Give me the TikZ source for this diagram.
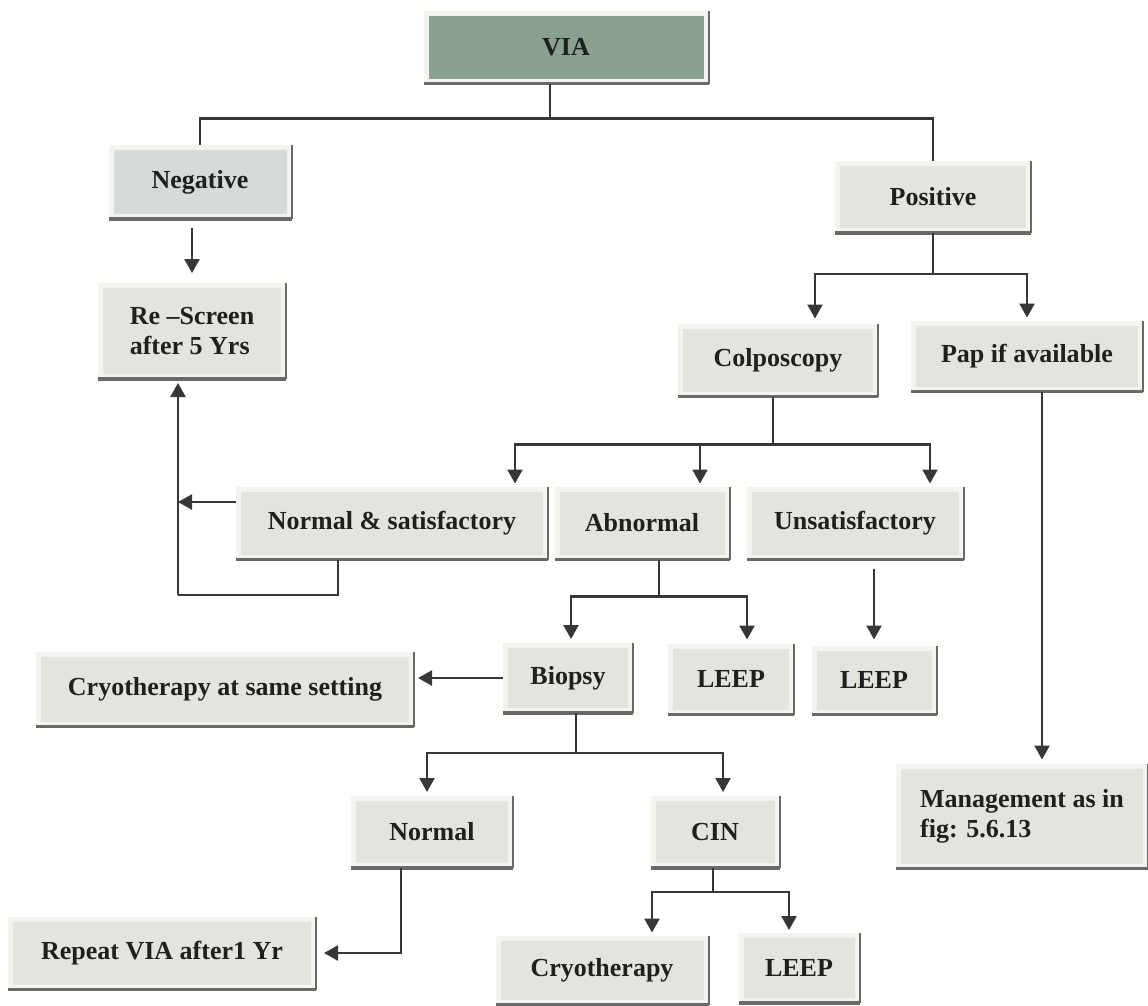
\documentclass[tikz,border=0pt]{standalone}
\usepackage{fontspec}
\setmainfont{Liberation Serif}
\usetikzlibrary{arrows.meta,positioning,calc}
\definecolor{boxFill}{RGB}{228,228,222}
\definecolor{boxRim}{RGB}{243,243,239}
\definecolor{viaFill}{RGB}{140,160,145}
\definecolor{negFill}{RGB}{212,219,216}
\definecolor{edgeDark}{RGB}{105,105,105}
\definecolor{lineDark}{RGB}{55,55,55}

\begin{document}
\begin{tikzpicture}[
  x=1pt, y=-1pt,
  font=\fontsize{26}{30}\selectfont\bfseries,
  box/.style={fill=boxFill, draw=boxRim, line width=5pt, inner sep=0pt, text=black!88},
  edge/.style={draw=edgeDark},
  link/.style={draw=lineDark, line width=2.4pt},
  arrow/.style={link, -{Triangle[width=15pt,length=14pt]}},
]

\useasboundingbox (0,0) rectangle (1148,1005);

% ---------- boxes ----------
\node[box, fill=viaFill, minimum width=280pt, minimum height=68pt] (via) at (566,47) {VIA};
\node[box, fill=negFill, minimum width=178pt, minimum height=69pt] (neg) at (200,182) {Negative};
\node[box, minimum width=191pt, minimum height=67pt] (pos) at (933,197) {Positive};
\node[box, align=left, minimum width=183pt, minimum height=91pt] (rescr) at (192,331) {Re --Screen\\after 5 Yrs};
\node[box, minimum width=195pt, minimum height=68pt] (colpo) at (778,360) {Colposcopy};
\node[box, minimum width=227pt, minimum height=66pt] (pap) at (1027,356) {Pap if available};
\node[box, minimum width=307pt, minimum height=68pt] (normsat) at (392,523) {Normal \& satisfactory};
\node[box, minimum width=170pt, minimum height=68pt] (abn) at (642,523) {Abnormal};
\node[box, minimum width=212pt, minimum height=68pt] (unsat) at (855,523) {Unsatisfactory};
\node[box, minimum width=125pt, minimum height=65pt] (biopsy) at (568,678) {Biopsy};
\node[box, minimum width=121pt, minimum height=66pt] (leepA) at (731,679) {LEEP};
\node[box, minimum width=120pt, minimum height=64pt] (leepB) at (874,680) {LEEP};
\node[box, minimum width=373pt, minimum height=70pt] (cryosame) at (225,689) {Cryotherapy at same setting};
\node[box, minimum width=157pt, minimum height=67pt] (normal) at (432,832) {Normal};
\node[box, minimum width=124pt, minimum height=67pt] (cin) at (715,832) {CIN};
\node[box, align=left, minimum width=247pt, minimum height=100pt] (mgmt) at (1022,816) {Management as in\\fig: 5.6.13};
\node[box, minimum width=303pt, minimum height=68pt] (rep) at (162,953) {Repeat VIA after1 Yr};
\node[box, minimum width=208pt, minimum height=64pt] (cryo) at (602,970) {Cryotherapy};
\node[box, minimum width=116pt, minimum height=65pt] (leepC) at (799,968) {LEEP};

% shadow edges, right and bottom
\foreach \n in {via,neg,pos,rescr,colpo,pap,normsat,abn,unsat,biopsy,leepA,leepB,cryosame,normal,cin,mgmt,rep,cryo,leepC}{
  \draw[edge, line width=2pt] (\n.north east) -- (\n.south east);
  \draw[edge, line width=3.5pt] (\n.south east) -- (\n.south west);
}

% ---------- VIA result ----------
\draw[link] ([xshift=-16]via.south) -- ++(0,35) coordinate (viaJ);
\draw[link] (neg.north) |- (viaJ) -| (pos.north);
\draw[arrow, shorten <=9pt, shorten >=10pt] (rescr.north |- neg.south) -- (rescr.north);

% ---------- positive branch ----------
\draw[link] (pos.south) -- ++(0,41) coordinate (posJ);
\draw[arrow, shorten >=5pt] (posJ) -| ([xshift=37]colpo.north);
\draw[arrow, shorten >=3pt] (posJ) -| (pap.north);
\coordinate (papS) at ([xshift=15]pap.south);
\draw[arrow, shorten >=4pt] (papS) -- (papS |- mgmt.north);

% ---------- colposcopy ----------
\draw[link] ([xshift=-5]colpo.south) -- ++(0,48) coordinate (colJ);
\draw[arrow, shorten >=3pt] (colJ) -| ([xshift=123]normsat.north);
\draw[arrow, shorten >=3pt] (colJ) -| ([xshift=58]abn.north);
\draw[arrow, shorten >=3pt] (colJ) -| ([xshift=75]unsat.north);

% back to re-screen
\coordinate (ret) at (178,595);
\draw[link] ([xshift=-54]normsat.south) |- (ret);
\draw[arrow, shorten >=4pt] (ret) -- (ret |- rescr.south);
\coordinate (nsW) at ([yshift=21]normsat.west);
\draw[arrow] (nsW) -- (nsW -| ret);

% ---------- abnormal / unsatisfactory ----------
\draw[link] ([xshift=17]abn.south) -- ++(0,37) coordinate (abnJ);
\draw[arrow, shorten >=4pt] (abnJ) -| ([xshift=3]biopsy.north);
\draw[arrow, shorten >=4pt] (abnJ) -| ([xshift=16]leepA.north);
\draw[arrow, shorten <=9pt, shorten >=6pt] (leepB.north |- unsat.south) -- (leepB.north);

% ---------- biopsy ----------
\draw[arrow, shorten >=4pt] (biopsy.west) -- (biopsy.west -| cryosame.east);
\draw[link] ([xshift=8]biopsy.south) -- ++(0,40) coordinate (bioJ);
\draw[arrow, shorten >=4pt] (bioJ) -| ([xshift=-5]normal.north);
\draw[arrow, shorten >=4pt] (bioJ) -| ([xshift=8]cin.north);
\draw[arrow, shorten >=8pt] ([xshift=-31]normal.south) |- (rep.east);

% ---------- CIN ----------
\draw[link] ([xshift=-2]cin.south) -- ++(0,24) coordinate (cinJ);
\draw[arrow, shorten >=3pt] (cinJ) -| ([xshift=50]cryo.north);
\draw[arrow, shorten >=3pt] (cinJ) -| ([xshift=-10]leepC.north);

\end{tikzpicture}
\end{document}
